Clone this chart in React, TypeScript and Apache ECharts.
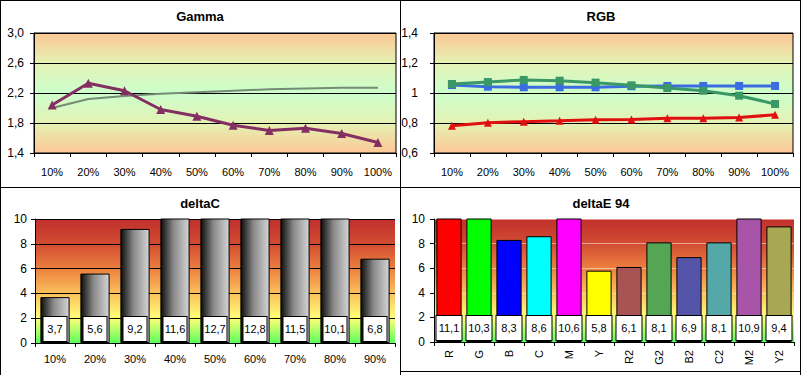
import React, { useEffect, useRef } from "react";
import * as echarts from "echarts";

const pctCats = ["10%", "20%", "30%", "40%", "50%", "60%", "70%", "80%", "90%", "100%"];
const gammaMeasured = [2.04, 2.33, 2.23, 1.98, 1.89, 1.77, 1.70, 1.73, 1.66, 1.54];
const gammaTarget = [2.0, 2.12, 2.16, 2.19, 2.21, 2.23, 2.25, 2.26, 2.27, 2.27];
const rgbRed = [0.782, 0.802, 0.809, 0.815, 0.822, 0.824, 0.831, 0.831, 0.836, 0.855];
const rgbGreen = [1.06, 1.073, 1.087, 1.082, 1.069, 1.051, 1.033, 1.015, 0.982, 0.927];
const rgbBlue = [1.053, 1.042, 1.038, 1.038, 1.038, 1.045, 1.047, 1.047, 1.047, 1.047];
const deltaCCats = ["10%", "20%", "30%", "40%", "50%", "60%", "70%", "80%", "90%"];
const deltaCValues = [3.7, 5.6, 9.2, 11.6, 12.7, 12.8, 11.5, 10.1, 6.8];
const deltaECats = ["R", "G", "B", "C", "M", "Y", "R2", "G2", "B2", "C2", "M2", "Y2"];
const deltaEValues = [11.1, 10.3, 8.3, 8.6, 10.6, 5.8, 6.1, 8.1, 6.9, 8.1, 10.9, 9.4];
const deltaEColors = ["#ff0000", "#00ff00", "#0000ff", "#00ffff", "#ff00ff", "#ffff00", "#a85454", "#54a654", "#5454a8", "#54a8a8", "#a854a8", "#a8a854"];

const FONT = "'Liberation Sans', Arial, sans-serif";

const comma = (v: number) => String(Math.round(v * 10) / 10).replace(".", ",");

function topBg() {
  return new echarts.graphic.LinearGradient(0, 0, 0, 1, [
    { offset: 0, color: "#fdc795" },
    { offset: 0.25, color: "#e4f2b4" },
    { offset: 0.5, color: "#ccffcc" },
    { offset: 0.75, color: "#e4f2b4" },
    { offset: 1, color: "#fdc795" },
  ]);
}
function bottomBg() {
  return new echarts.graphic.LinearGradient(0, 0, 0, 1, [
    { offset: 0, color: "#c0302c" },
    { offset: 0.2, color: "#d24c32" },
    { offset: 0.4, color: "#ec8040" },
    { offset: 0.6, color: "#fcc05c" },
    { offset: 0.8, color: "#ffff78" },
    { offset: 1, color: "#5cff5c" },
  ]);
}

export default function App() {
  const ref = useRef<HTMLDivElement>(null);
  useEffect(() => {
    document.body.style.margin = "0";
    const chart = echarts.init(ref.current!, undefined, { renderer: "svg" });
    const xAxisBase = (gridIndex: number, data: string[], margin: number, extra: any = {}) => ({
      type: "category",
      gridIndex,
      data,
      boundaryGap: true,
      axisLine: { show: true, lineStyle: { color: "#000", width: 1 } },
      axisTick: { show: true, length: 4, lineStyle: { color: "#000" } },
      axisLabel: { color: "#000", fontSize: 11, fontFamily: FONT, margin, interval: 0, ...extra },
      splitLine: { show: false },
    });
    const yAxisBase = (gridIndex: number, min: number, max: number, interval: number, fmt: (v: number) => string, margin: number, split: string) => ({
      type: "value",
      gridIndex,
      min,
      max,
      interval,
      axisLine: { show: true, lineStyle: { color: "#000", width: 1 } },
      axisTick: { show: true, length: 4, lineStyle: { color: "#000" } },
      axisLabel: { color: "#000", fontSize: 12, fontFamily: FONT, margin, formatter: fmt },
      splitLine: { show: true, lineStyle: { color: split, width: 1 } },
    });
    const labelBox = (w: number) => ({
      show: true,
      position: "insideBottom",
      distance: 2,
      formatter: (p: any) => comma(p.value),
      color: "#000",
      fontSize: 11,
      fontFamily: FONT,
      backgroundColor: "#fff",
      borderColor: "#000",
      borderWidth: 1,
      width: w,
      align: "center",
      lineHeight: 16,
      padding: [4, 2, 4, 2],
    });
    const titleStyle = { fontSize: 13, fontWeight: "bold", color: "#000", fontFamily: FONT };
    chart.setOption({
      animation: false,
      backgroundColor: "#fff",
      title: [
        { text: "Gamma", left: 200, top: 10, textAlign: "center", padding: 0, textStyle: titleStyle },
        { text: "RGB", left: 601, top: 10, textAlign: "center", padding: 0, textStyle: titleStyle },
        { text: "deltaC", left: 200, top: 197, textAlign: "center", padding: 0, textStyle: titleStyle },
        { text: "deltaE 94", left: 601, top: 197, textAlign: "center", padding: 0, textStyle: titleStyle },
      ],
      grid: [
        { left: 34, top: 33, width: 362, height: 120, show: true, backgroundColor: topBg(), borderColor: "#000", borderWidth: 1 },
        { left: 434, top: 33, width: 359, height: 120, show: true, backgroundColor: topBg(), borderColor: "#000", borderWidth: 1 },
        { left: 35, top: 219, width: 360, height: 124, show: true, backgroundColor: bottomBg(), borderColor: "#000", borderWidth: 0 },
        { left: 434, top: 219, width: 360, height: 123, show: true, backgroundColor: bottomBg(), borderColor: "#000", borderWidth: 0 },
      ],
      xAxis: [
        xAxisBase(0, pctCats, 13),
        xAxisBase(1, pctCats, 13),
        xAxisBase(2, deltaCCats, 10),
        xAxisBase(3, deltaECats, 8, { rotate: 90 }),
      ],
      yAxis: [
        yAxisBase(0, 1.4, 3.0, 0.4, (v) => v.toFixed(1).replace(".", ","), 10, "#000"),
        yAxisBase(1, 0.6, 1.4, 0.2, comma, 16, "#000"),
        yAxisBase(2, 0, 10, 2, (v) => String(v), 8, "#000"),
        yAxisBase(3, 0, 10, 2, (v) => String(v), 9, "rgba(255,235,225,0.55)"),
      ],
      series: [
        {
          type: "line", xAxisIndex: 0, yAxisIndex: 0, data: gammaTarget,
          symbol: "none", lineStyle: { color: "#748c74", width: 2 }, itemStyle: { color: "#748c74" },
        },
        {
          type: "line", xAxisIndex: 0, yAxisIndex: 0, data: gammaMeasured,
          symbol: "triangle", symbolSize: 9, lineStyle: { color: "#842f62", width: 3 }, itemStyle: { color: "#842f62" },
        },
        {
          type: "line", xAxisIndex: 1, yAxisIndex: 1, data: rgbBlue,
          symbol: "rect", symbolSize: 8, lineStyle: { color: "#3a6ee0", width: 3 }, itemStyle: { color: "#3a6ee0" },
        },
        {
          type: "line", xAxisIndex: 1, yAxisIndex: 1, data: rgbGreen,
          symbol: "rect", symbolSize: 8, lineStyle: { color: "#3a9866", width: 3 }, itemStyle: { color: "#3a9866" },
        },
        {
          type: "line", xAxisIndex: 1, yAxisIndex: 1, data: rgbRed,
          symbol: "triangle", symbolSize: 8, lineStyle: { color: "#e01010", width: 3 }, itemStyle: { color: "#e01010" },
        },
        {
          type: "bar", xAxisIndex: 2, yAxisIndex: 2, data: deltaCValues, barCategoryGap: "27%", clip: true,
          itemStyle: {
            color: new echarts.graphic.LinearGradient(0, 0, 1, 0, [
              { offset: 0, color: "#0c0c0c" },
              { offset: 0.45, color: "#8a8a8a" },
              { offset: 1, color: "#d4d4d4" },
            ]),
            borderColor: "#000",
            borderWidth: 1,
          },
          label: labelBox(19),
        },
        {
          type: "bar", xAxisIndex: 3, yAxisIndex: 3, barCategoryGap: "16%", clip: true,
          data: deltaEValues.map((v, i) => ({ value: v, itemStyle: { color: deltaEColors[i] } })),
          itemStyle: { borderColor: "#000", borderWidth: 1 },
          label: labelBox(21),
        },
      ],
      graphic: [
        { type: "line", shape: { x1: 0.5, y1: 0, x2: 0.5, y2: 375 }, style: { stroke: "#000", lineWidth: 1 }, silent: true },
        { type: "line", shape: { x1: 400.5, y1: 0, x2: 400.5, y2: 375 }, style: { stroke: "#000", lineWidth: 1 }, silent: true },
        { type: "line", shape: { x1: 800.5, y1: 0, x2: 800.5, y2: 375 }, style: { stroke: "#000", lineWidth: 1 }, silent: true },
        { type: "line", shape: { x1: 0, y1: 0.5, x2: 801, y2: 0.5 }, style: { stroke: "#000", lineWidth: 1 }, silent: true },
        { type: "line", shape: { x1: 0, y1: 187.5, x2: 801, y2: 187.5 }, style: { stroke: "#000", lineWidth: 1 }, silent: true },
        { type: "line", shape: { x1: 400, y1: 371.5, x2: 801, y2: 371.5 }, style: { stroke: "#000", lineWidth: 1 }, silent: true },
      ],
    });
    return () => chart.dispose();
  }, []);
  return <div ref={ref} style={{ width: 801, height: 375 }} />;
}
